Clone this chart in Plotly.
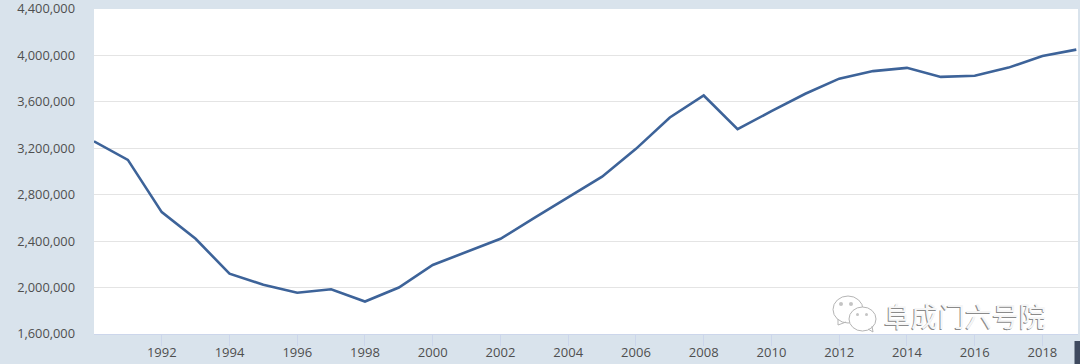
import plotly.graph_objects as go

years = list(range(1990, 2020))
values = [3260000, 3100000, 2650000, 2420000, 2120000, 2025000, 1955000, 1985000, 1880000, 2000000,
          2195000, 2310000, 2420000, 2600000, 2780000, 2955000, 3195000, 3465000, 3655000, 3365000,
          3520000, 3670000, 3800000, 3865000, 3893000, 3815000, 3825000, 3895000, 3995000, 4050000]
y_ticks = [1600000, 2000000, 2400000, 2800000, 3200000, 3600000, 4000000, 4400000]
x_ticks = list(range(1992, 2020, 2))
watermark = "阜成门六号院"

L, R, T, B = 94, 1078, 9, 334
W, H = 1080, 364
def px(x): return (x - L) / (R - L)
def py(y): return (B - y) / (B - T)

fig = go.Figure(go.Scatter(x=years, y=values, mode="lines",
                           line=dict(color="#3d6399", width=2.6), hoverinfo="skip"))

def bubble(x0, y0, x1, y1, fill=None):
    return dict(type="circle", xref="paper", yref="paper", x0=px(x0), x1=px(x1), y0=py(y0), y1=py(y1),
                line=dict(color="#b5b5b5", width=1), fillcolor=fill or "rgba(255,255,255,0)", layer="above")

def dot(x0, y0, d):
    return dict(type="circle", xref="paper", yref="paper", x0=px(x0), x1=px(x0 + d), y0=py(y0), y1=py(y0 + d),
                fillcolor="#c4c4c4", line=dict(width=0), layer="above")

def tail(points):
    path = "M " + " L ".join(f"{px(x):.5f},{py(y):.5f}" for x, y in points)
    return dict(type="path", xref="paper", yref="paper", path=path,
                line=dict(color="#b5b5b5", width=1), layer="above")

shapes = [
    dict(type="rect", xref="paper", yref="paper", x0=px(1074.5), x1=px(1080), y0=py(341), y1=py(364),
         fillcolor="#3f4a5f", line=dict(width=0), layer="above"),
    bubble(833, 296, 863, 323),
    tail([(838, 319), (838, 325), (846, 322)]),
    bubble(849, 307, 876, 331, "white"),
    tail([(868, 329), (873, 332), (872, 326)]),
    dot(839, 302, 4), dot(849, 302, 4), dot(856, 313, 3), dot(865, 313, 3),
]

annotations = [
    dict(text=watermark, xref="paper", yref="paper", x=px(881), y=py(316.5), xanchor="left", yanchor="middle",
         showarrow=False, font=dict(family="Noto Sans CJK SC", size=27, color="#8a8a8a")),
    dict(text=watermark, xref="paper", yref="paper", x=px(882), y=py(315.5), xanchor="left", yanchor="middle",
         showarrow=False, font=dict(family="Noto Sans CJK SC", size=27, color="#f6f6f6")),
]

fig.update_layout(
    width=W, height=H, autosize=False,
    margin=dict(l=L, r=W - R, t=T, b=H - B, pad=0),
    paper_bgcolor="#d9e3ec", plot_bgcolor="#ffffff",
    font=dict(family="Open Sans", size=13, color="#4f4f4f"),
    showlegend=False, shapes=shapes, annotations=annotations,
    xaxis=dict(range=[1990, 2019.05], tickvals=x_ticks, ticktext=[str(v) for v in x_ticks],
               automargin=False, ticklabelstandoff=-5, ticklabeloverflow="allow",
               ticks="outside", ticklen=11, tickcolor="#ccd6eb", tickwidth=1,
               showgrid=False, zeroline=False, showline=True, linecolor="#ccd6eb", linewidth=1.2,
               tickfont=dict(size=13, color="#4f4f4f")),
    yaxis=dict(range=[1600000, 4400000], tickvals=y_ticks, ticktext=[f"{v:,}" for v in y_ticks],
               automargin=False, ticklabeloverflow="allow",
               ticks="", ticklabelstandoff=18, showgrid=True, gridcolor="#e4e4e4", gridwidth=1.3,
               zeroline=False, showline=False, tickfont=dict(size=12.8, color="#4f4f4f")),
)
fig.write_html("out.html", config=dict(displayModeBar=False),
               post_script="document.body.style.margin='0';document.documentElement.style.overflow='hidden';")
